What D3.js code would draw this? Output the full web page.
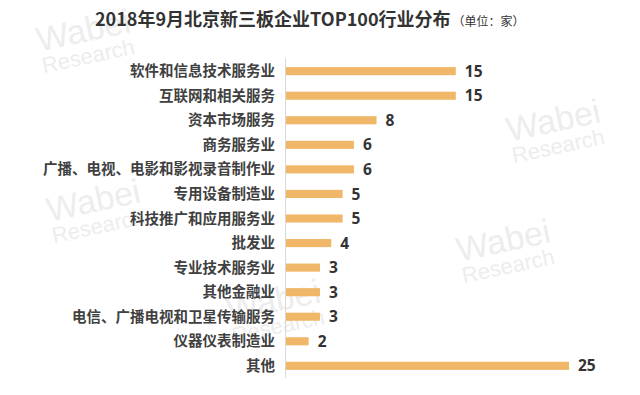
<!DOCTYPE html>
<html>
<head>
<meta charset="utf-8">
<script src="https://cdn.jsdelivr.net/npm/d3@7"></script>
<style>
    body { margin: 0; background: #fff; }
    svg { display: block; }
    .label { font-family: "Noto Sans CJK SC", sans-serif; font-size: 14.5px; font-weight: bold; fill: #404040; }
    .value { font-family: "Open Sans", "Noto Sans", sans-serif; font-size: 15.5px; font-weight: bold; fill: #333; }
    .wm { font-family: "Liberation Sans", sans-serif; fill: #ededed; }
</style>
</head>
<body>
<script>
    var categories = ["软件和信息技术服务业", "互联网和相关服务", "资本市场服务", "商务服务业",
        "广播、电视、电影和影视录音制作业", "专用设备制造业", "科技推广和应用服务业", "批发业",
        "专业技术服务业", "其他金融业", "电信、广播电视和卫星传输服务", "仪器仪表制造业", "其他"];
    var values = [15, 15, 8, 6, 6, 5, 5, 4, 3, 3, 3, 2, 25];

    var width = 640, height = 395;
    var svg = d3.select("body").append("svg")
        .attr("width", width)
        .attr("height", height);

    // faint watermarks
    var marks = [[0, 60], [470, 150], [10, 230], [420, 270], [190, 330]];
    marks.forEach(function (m) {
        var g = svg.append("g").attr("transform", "translate(" + m[0] + "," + m[1] + ") rotate(-12)");
        g.append("text").attr("class", "wm").attr("font-size", 34).attr("x", 40).attr("y", 0).text("Wabei");
        g.append("text").attr("class", "wm").attr("font-size", 22).attr("x", 40).attr("y", 22).text("Research");
    });

    var x = d3.scaleLinear().domain([0, 25]).range([286, 569]);
    var y = d3.scaleBand().domain(categories).range([59, 378]).paddingInner(0.67).paddingOuter(0.33);

    svg.append("line")
        .attr("x1", x(0) - 0.5).attr("x2", x(0) - 0.5)
        .attr("y1", 58).attr("y2", 378)
        .attr("stroke", "#d9d9d9");

    svg.selectAll("rect.bar").data(values).enter().append("rect")
        .attr("class", "bar")
        .attr("x", x(0))
        .attr("y", function (d, i) { return y(categories[i]); })
        .attr("width", function (d) { return x(d) - x(0); })
        .attr("height", y.bandwidth())
        .attr("fill", "#f1b768");

    svg.selectAll("text.label").data(categories).enter().append("text")
        .attr("class", "label")
        .attr("x", x(0) - 11)
        .attr("y", function (d) { return y(d) + y.bandwidth() / 2; })
        .attr("dy", "0.35em")
        .attr("text-anchor", "end")
        .text(function (d) { return d; });

    svg.selectAll("text.value").data(values).enter().append("text")
        .attr("class", "value")
        .attr("x", function (d) { return x(d) + 9; })
        .attr("y", function (d, i) { return y(categories[i]) + y.bandwidth() / 2; })
        .attr("dy", "0.36em")
        .text(function (d) { return d; });

    var title = svg.append("text")
        .attr("x", 95).attr("y", 26)
        .attr("font-family", "Noto Sans CJK SC, sans-serif")
        .attr("fill", "#333");
    title.append("tspan").attr("font-size", 18).attr("font-weight", "bold")
        .text("2018年9月北京新三板企业TOP100行业分布");
    title.append("tspan").attr("font-size", 12).attr("dx", 2)
        .text("（单位：家）");
</script>
</body>
</html>
